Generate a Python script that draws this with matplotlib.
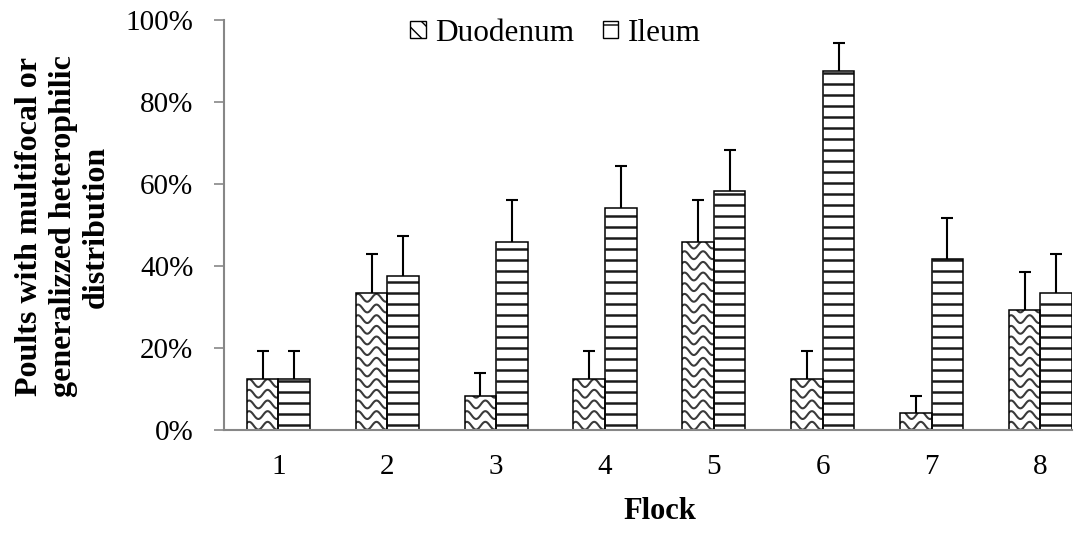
import numpy as np
import matplotlib.pyplot as plt
from matplotlib.patches import Patch

plt.rcParams["font.family"] = ["Liberation Serif", "DejaVu Serif"]

flocks = ["1", "2", "3", "4", "5", "6", "7", "8"]
duodenum = [12.5, 33.3, 8.3, 12.5, 45.8, 12.5, 4.2, 29.2]
duodenum_err = [6.8, 9.7, 5.7, 6.8, 10.3, 6.8, 4.1, 9.3]
ileum = [12.5, 37.5, 45.8, 54.2, 58.3, 87.5, 41.7, 33.3]
ileum_err = [6.8, 9.9, 10.2, 10.2, 10.1, 6.8, 10.1, 9.7]
yticks = [0, 20, 40, 60, 80, 100]

grey = "#878787"
fs = 21

fig = plt.figure(figsize=(10.87, 5.33), dpi=100)
ax = fig.add_axes([224 / 1087, 103 / 533, 848 / 1087, 410 / 533])

x = np.arange(len(flocks))
w = 0.29

# bars are transparent so the pattern lines drawn below show through
d_bars = ax.bar(x - w, duodenum, width=w, align="edge", facecolor="none",
                edgecolor="black", linewidth=1.1, zorder=2)
i_bars = ax.bar(x, ileum, width=w, align="edge", facecolor="none",
                edgecolor="black", linewidth=1.1, zorder=2)

# wavy fill for duodenum bars
period = 0.17
amp = 0.95
row_gap = 2.6
for bar in d_bars:
    x0, h, bw = bar.get_x(), bar.get_height(), bar.get_width()
    xs = np.linspace(x0, x0 + bw, 80)
    for r in np.arange(row_gap * 0.4, h + row_gap, row_gap):
        ys = r + amp * np.sin(2 * np.pi * (xs - x0) / period + 0.8)
        ln, = ax.plot(xs, ys, color="#3a3a3a", lw=1.5, zorder=1.5)
        ln.set_clip_path(bar)

# horizontal lines for ileum bars
line_gap = 2.68
for bar in i_bars:
    x0, h, bw = bar.get_x(), bar.get_height(), bar.get_width()
    ys = np.arange(line_gap * 0.5, h, line_gap)
    lc = ax.hlines(ys, x0, x0 + bw, color="#1a1a1a", lw=1.8, zorder=1.5)
    lc.set_clip_path(bar)

for xs, vals, errs in [(x - w / 2, duodenum, duodenum_err),
                       (x + w / 2, ileum, ileum_err)]:
    eb = ax.errorbar(xs, vals, yerr=[np.zeros(len(errs)), errs], fmt="none",
                     ecolor="black", elinewidth=1.5, capsize=4.3,
                     capthick=1.5, zorder=3)
    eb[1][0].set_visible(False)

ax.set_xlim(-0.5, len(flocks) - 1 + w)
ax.set_ylim(0, 100)
ax.set_xticks(x)
ax.set_xticklabels(flocks, fontsize=fs)
ax.set_yticks(yticks)
ax.set_yticklabels([f"{v}%" for v in yticks], fontsize=fs)
ax.tick_params(axis="x", length=0, pad=17)
ax.tick_params(axis="y", length=7, width=1.2, color=grey, pad=15)

for side in ["top", "right"]:
    ax.spines[side].set_visible(False)
for side in ["left", "bottom"]:
    ax.spines[side].set_color(grey)
    ax.spines[side].set_linewidth(1.5)

fig.text(0.058, 0.575,
         "Poults with multifocal or\ngeneralizzed heterophilic\ndistribution",
         rotation=90, ha="center", va="center", multialignment="center",
         fontsize=23, fontweight="bold", linespacing=1.2)
fig.text(0.607, 0.04, "Flock", ha="center", va="center",
         fontsize=22, fontweight="bold")

handles = [Patch(facecolor="white", edgecolor="black", hatch="\\\\", label="Duodenum"),
           Patch(facecolor="white", edgecolor="black", hatch="-", label="Ileum")]
fig.legend(handles=handles, loc="center", bbox_to_anchor=(0.511, 0.938), ncol=2,
           frameon=False, fontsize=22.5, handlelength=0.5, handleheight=0.5,
           handletextpad=0.3, columnspacing=0.9, borderpad=0)

fig.savefig("out.png", dpi=100)
